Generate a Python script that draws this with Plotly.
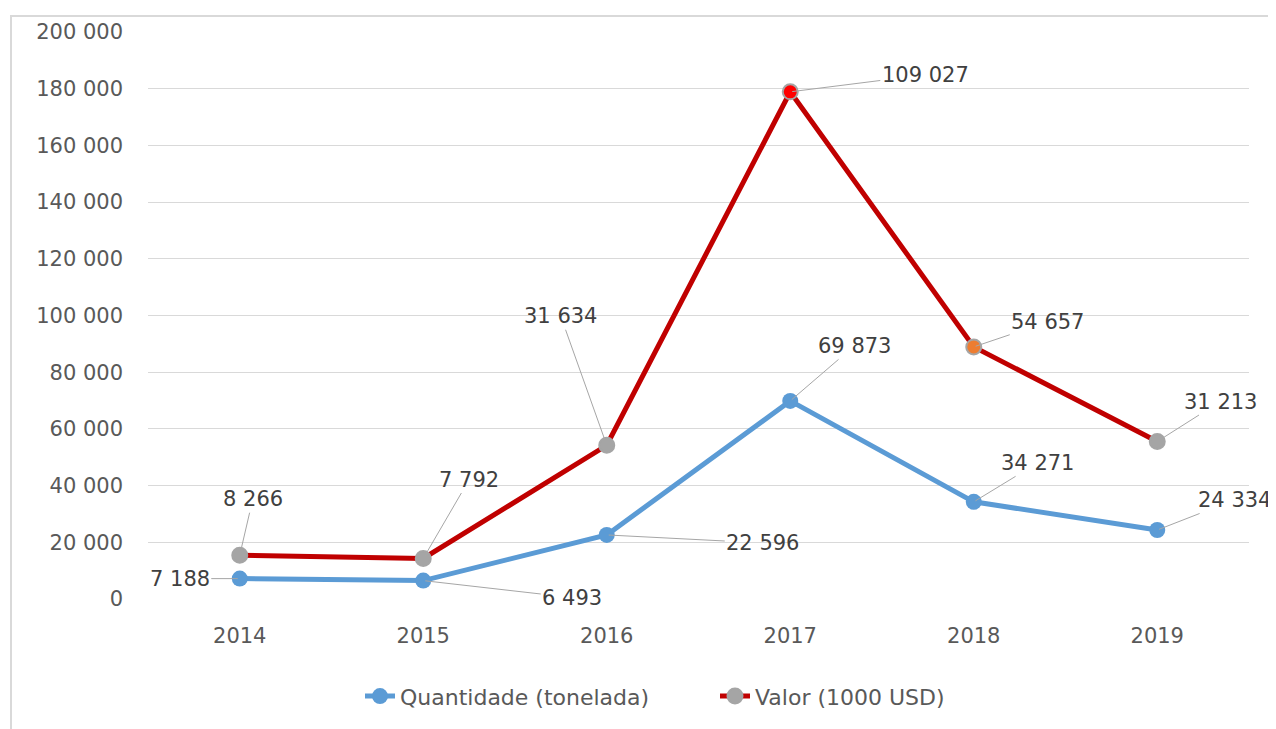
import numpy as np
import plotly.graph_objects as go

# ---- data ----
years = ["2014", "2015", "2016", "2017", "2018", "2019"]
quantidade = [7188, 6493, 22596, 69873, 34271, 24334]   # tonelada
valor = [8266, 7792, 31634, 109027, 54657, 31213]       # 1000 USD (stacked on quantidade)
y_ticks = [0, 20000, 40000, 60000, 80000, 100000, 120000, 140000, 160000, 180000, 200000]

# label offsets (pixels) for data labels
q_offsets = [(-60, 0), (149, 17), (156, 8), (64, -55), (64, -39), (77, -30)]
v_offsets = [(13, -56), (46, -79), (-46, -129), (135, -17), (74, -25), (63, -40)]

valor_marker_colors = ["#a5a5a5", "#a5a5a5", "#a5a5a5", "#ff0000", "#ed7d31", "#a5a5a5"]

FONT = "DejaVu Sans"
OFF = 8  # default body margin of the html page

def fmt(v):
    return f"{v:,}".replace(",", " ")

fig = go.Figure()
fig.add_trace(go.Scatter(
    x=years, y=quantidade, name="Quantidade (tonelada)",
    mode="lines+markers", stackgroup="one", fill="none",
    line=dict(color="#5b9bd5", width=5),
    marker=dict(color="#5b9bd5", size=16),
))
fig.add_trace(go.Scatter(
    x=years, y=valor, name="Valor (1000 USD)",
    mode="lines+markers", stackgroup="one", fill="none",
    line=dict(color="#c00000", width=5),
    marker=dict(color=valor_marker_colors, size=15, line=dict(color="#a5a5a5", width=2)),
))

stacked = np.cumsum(np.array([quantidade, valor]), axis=0)

annotations = []
for i, yr in enumerate(years):
    for val, ypos, off in ((quantidade[i], stacked[0][i], q_offsets[i]),
                           (valor[i], stacked[1][i], v_offsets[i])):
        annotations.append(dict(
            x=i, y=float(ypos), xref="x", yref="y",
            text=fmt(val), showarrow=True, arrowhead=0, arrowwidth=1,
            arrowcolor="#a6a6a6", ax=off[0], ay=off[1], standoff=2,
            font=dict(family=FONT, size=21, color="#404040"),
        ))

W, H = 1276 - OFF, 729 - OFF
# plot area in page pixels: x 148..1249, y 29..600
L, R, T, B = 148, 1249, 29, 600
def px(xp): return (xp - L) / (R - L)
def py(yp): return (B - yp) / (B - T)

fig.add_shape(type="rect", xref="paper", yref="paper",
              x0=px(11), x1=px(1300), y0=py(750), y1=py(13),
              line=dict(color="#d9d9d9", width=2), layer="below")

fig.update_layout(
    width=W, height=H,
    margin=dict(l=L - OFF, r=1276 - R, t=T - OFF, b=729 - B),
    paper_bgcolor="white", plot_bgcolor="white",
    separators=", ",
    showlegend=True,
    legend=dict(orientation="h", x=px(360), xanchor="left", y=py(698), yanchor="middle",
                font=dict(family=FONT, size=22, color="#595959"), traceorder="normal",
                entrywidth=310, entrywidthmode="pixels"),
    annotations=annotations,
    font=dict(family=FONT, color="#595959"),
)
fig.update_xaxes(type="category", range=[-0.5, 5.5], showgrid=False, showline=False,
                 ticks="", tickfont=dict(family=FONT, size=21, color="#595959"),
                 ticklabelstandoff=22, zeroline=False)
fig.update_yaxes(range=[0, 200000], tickvals=y_ticks, tickformat=",d",
                 showgrid=True, gridcolor="#d9d9d9", gridwidth=1, zeroline=False,
                 showline=False, ticks="", ticklabelstandoff=24,
                 tickfont=dict(family=FONT, size=21, color="#595959"))

fig.write_html("out.html")
